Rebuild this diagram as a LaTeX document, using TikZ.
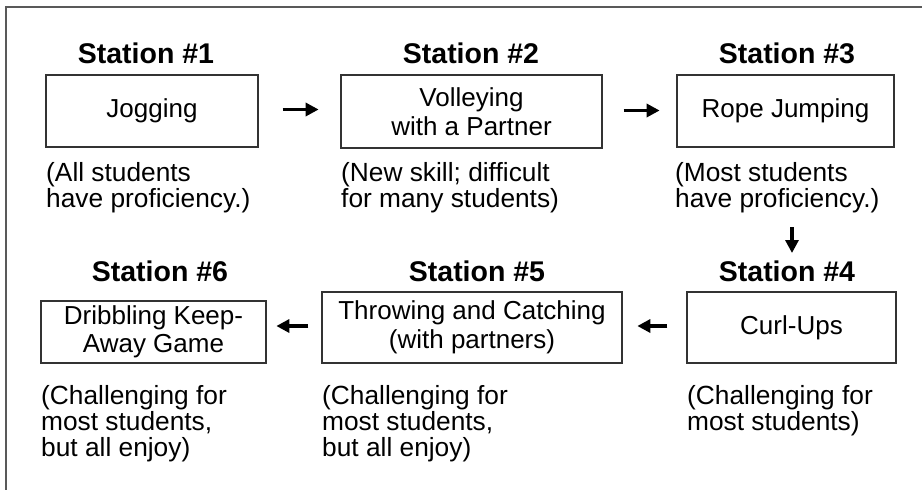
\documentclass[tikz,border=0pt]{standalone}
\usepackage{fontspec}
\setmainfont{Liberation Sans}
\usetikzlibrary{arrows.meta}
\begin{document}
\begin{tikzpicture}[x=1pt,y=-1pt,
  box/.style={draw=black!80,line width=1.3pt,inner sep=0pt,align=center,
    font=\fontsize{26}{28.5}\selectfont},
  title/.style={font=\fontsize{28.5}{31}\selectfont\bfseries,inner sep=0pt,anchor=base},
  note/.style={align=left,inner sep=0pt,anchor=north west,
    font=\fontsize{26.3}{26}\selectfont},
  arr/.style={line width=3.2pt,-{Triangle[length=13pt,width=13pt]}}]
\useasboundingbox (0,0) rectangle (922,490);
\draw[black!65,line width=1.5pt] (922,7) -- (6,7) -- (6,490);
% boxes
\node[box,minimum width=212pt,minimum height=72pt] (b1) at (152,111) {Jogging};
\node[box,minimum width=261pt,minimum height=73pt] (b2) at (471.5,111.5) {Volleying\\with a Partner};
\node[box,minimum width=217pt,minimum height=72pt] (b3) at (785.5,111) {Rope Jumping};
\node[box,minimum width=209pt,minimum height=71pt] (b4) at (791.5,327.5) {Curl-Ups};
\node[box,minimum width=300pt,minimum height=71pt] (b5) at (472,327.5) {Throwing and Catching\\(with partners)};
\node[box,minimum width=225pt,minimum height=62pt] (b6) at (153.5,332) {Dribbling Keep-\\Away Game};
% titles
\node[title] (t1) at (146,63) {Station \#1};
\node[title] (t2) at (471,63) {Station \#2};
\node[title] (t3) at (787,63) {Station \#3};
\node[title] (t4) at (787,281) {Station \#4};
\node[title] (t5) at (477,281) {Station \#5};
\node[title] (t6) at (160,281) {Station \#6};
% notes
\node[note] (n1) at (46,162) {(All students\\have proficiency.)};
\node[note] (n2) at (341,162) {(New skill; difficult\\for many students)};
\node[note] (n3) at (675,162) {(Most students\\have proficiency.)};
\node[note] (n4) at (687,385) {(Challenging for\\most students)};
\node[note] (n5) at (322,385) {(Challenging for\\most students,\\but all enjoy)};
\node[note] (n6) at (41,385) {(Challenging for\\most students,\\but all enjoy)};
% arrows
\coordinate (a3s) at (792,227);
\coordinate (a3e) at (792,253);
\draw[arr] ([xshift=24pt,yshift=1.5pt]b1.east) coordinate (a1s) -- ++(36,0) coordinate (a1e);
\draw[arr] ([xshift=21pt,yshift=1pt]b2.east) coordinate (a2s) -- ++(36,0) coordinate (a2e);
\draw[arr] (a3s) -- (a3e);
\draw[arr] ([xshift=-19pt,yshift=1.5pt]b4.west) coordinate (a4s) -- ++(-30,0) coordinate (a4e);
\draw[arr] ([xshift=-13pt,yshift=1.5pt]b5.west) coordinate (a5s) -- ++(-32,0) coordinate (a5e);
\end{tikzpicture}
\end{document}
